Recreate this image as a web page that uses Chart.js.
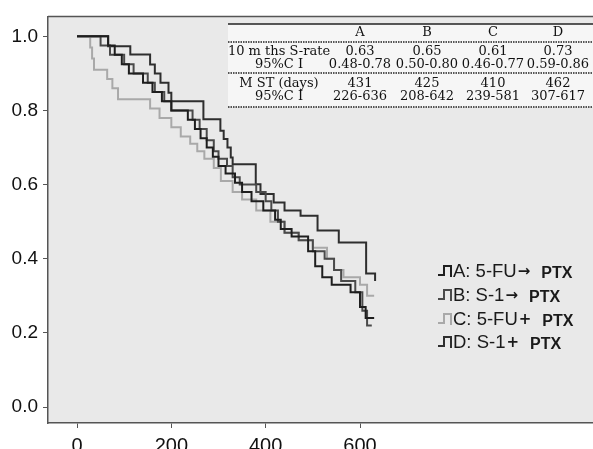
<!DOCTYPE html>
<html><head><meta charset="utf-8">
<script src="https://cdn.jsdelivr.net/npm/chart.js@4.4.1/dist/chart.umd.min.js"></script>
<style>html,body{margin:0;padding:0;background:#fff;}canvas{display:block;}</style>
</head><body>
<canvas id="c" width="593" height="449"></canvas>
<script>
// ---- data ----
const xTicks = [0, 200, 400, 600];
const yTicks = [0, 0.2, 0.4, 0.6, 0.8, 1.0];

const timesA = [0,66,80,95,110,140,160,180,200,235,250,262,275,288,300,315,335,350,370,395,420,432,455,490,505,520,540,580,600,612,630];
const survA  = [1,0.975,0.95,0.925,0.90,0.875,0.85,0.825,0.80,0.775,0.75,0.725,0.70,0.675,0.65,0.63,0.605,0.58,0.555,0.53,0.505,0.48,0.46,0.42,0.38,0.35,0.33,0.31,0.27,0.24,0.24];

const timesB = [0,50,70,100,120,150,165,185,200,245,260,275,290,300,318,330,345,380,400,412,426,440,470,500,525,545,560,590,605,615,625];
const survB  = [1,0.975,0.95,0.925,0.90,0.875,0.85,0.825,0.80,0.775,0.75,0.72,0.69,0.67,0.65,0.62,0.60,0.58,0.555,0.53,0.50,0.47,0.45,0.42,0.40,0.37,0.34,0.31,0.26,0.22,0.22];

const timesC = [0,28,32,36,64,75,87,155,175,200,220,240,255,270,290,305,330,350,380,410,440,470,500,530,545,565,600,615,630];
const survC  = [1,0.97,0.94,0.91,0.885,0.86,0.83,0.805,0.78,0.755,0.73,0.71,0.69,0.67,0.645,0.61,0.58,0.56,0.53,0.50,0.47,0.45,0.43,0.40,0.37,0.35,0.33,0.30,0.30];

const timesD = [0,66,113,155,165,177,194,200,268,304,311,319,326,330,379,389,417,440,474,510,555,613,632];
const survD  = [1,0.973,0.951,0.924,0.90,0.875,0.848,0.825,0.776,0.745,0.723,0.70,0.673,0.655,0.601,0.575,0.552,0.53,0.516,0.476,0.444,0.36,0.34];

const legendMain  = ['A: 5-FU', 'B: S-1', 'C: 5-FU', 'D: S-1'];
const legendSign  = ['\u2192', '\u2192', '+', '+'];
const legendDrug  = ['PTX', 'PTX', 'PTX', 'PTX'];

const tableCols   = ['A', 'B', 'C', 'D'];
const tableLabels = ['10 m ths S-rate', '95%C I', 'M ST (days)', '95%C I'];
const rate10      = ['0.63', '0.65', '0.61', '0.73'];
const rate10CI    = ['0.48-0.78', '0.50-0.80', '0.46-0.77', '0.59-0.86'];
const mstDays     = ['431', '425', '410', '462'];
const mstCI       = ['226-636', '208-642', '239-581', '307-617'];

// ---- styles ----
const colors = ['#1e1e1e', '#4a4a4a', '#a9a9a9', '#2e2e2e'];
const pts = (t, s) => t.map((v, i) => ({x: v, y: s[i]}));
const series = [pts(timesA, survA), pts(timesB, survB), pts(timesC, survC), pts(timesD, survD)];

const bgPlugin = {
  id: 'bg',
  beforeDraw(chart) {
    const {ctx, chartArea: a} = chart;
    ctx.save();
    ctx.fillStyle = '#ffffff';
    ctx.fillRect(0, 0, chart.width, chart.height);
    ctx.fillStyle = '#e9e9e9';
    ctx.fillRect(a.left, a.top, a.right - a.left, a.bottom - a.top);
    ctx.restore();
  },
  afterDraw(chart) {
    const {ctx, chartArea: a} = chart;
    ctx.save();
    ctx.strokeStyle = '#555';
    ctx.lineWidth = 1.5;
    ctx.beginPath(); ctx.moveTo(a.left, a.top); ctx.lineTo(chart.width, a.top); ctx.stroke();

    // ---- inset table ----
    const tx0 = 228, tx1 = chart.width;
    ctx.fillStyle = '#f6f6f6';
    ctx.fillRect(tx0, 24, tx1 - tx0, 83);
    ctx.strokeStyle = '#222';
    ctx.lineWidth = 1.5;
    ctx.beginPath(); ctx.moveTo(tx0, 24); ctx.lineTo(tx1, 24); ctx.stroke();
    ctx.setLineDash([1.5, 1]);
    ctx.lineWidth = 1.3;
    [42, 73, 107].forEach(y => { ctx.beginPath(); ctx.moveTo(tx0, y); ctx.lineTo(tx1, y); ctx.stroke(); });
    ctx.setLineDash([]);
    ctx.fillStyle = '#111';
    ctx.font = '13px "DejaVu Serif"';
    ctx.textAlign = 'center';
    ctx.textBaseline = 'middle';
    const colX = [360, 427, 493, 558];
    const labX = 279;
    const rowY = [33, 52, 65, 84, 97];
    tableCols.forEach((c, i) => ctx.fillText(c, colX[i], rowY[0]));
    tableLabels.forEach((l, r) => ctx.fillText(l, labX, rowY[r + 1]));
    [rate10, rate10CI, mstDays, mstCI].forEach((row, r) => row.forEach((v, i) => ctx.fillText(v, colX[i], rowY[r + 1])));

    // ---- legend ----
    const legY = [272, 296, 320, 343];
    ctx.textAlign = 'left';
    legendMain.forEach((m, i) => {
      const y = legY[i];
      ctx.strokeStyle = colors[i];
      ctx.lineWidth = 2;
      ctx.beginPath();
      ctx.moveTo(438, y + 3); ctx.lineTo(444, y + 3); ctx.lineTo(444, y - 6);
      ctx.lineTo(451, y - 6); ctx.lineTo(451, y + 5);
      ctx.stroke();
      ctx.fillStyle = '#1a1a1a';
      ctx.font = '18.5px "Liberation Sans"';
      ctx.fillText(m, 453, y);
      let x = 453 + ctx.measureText(m).width + 1;
      ctx.font = 'bold 15px "DejaVu Sans"';
      ctx.fillText(legendSign[i], x, y);
      x += ctx.measureText(legendSign[i]).width + 11;
      ctx.font = 'bold 16px "Liberation Sans"';
      ctx.fillText(legendDrug[i], x, y + 2);
    });
    ctx.restore();
  }
};

const pxPerDay = 283 / 600;
const xMin = (48 - 77) / pxPerDay;
const xMax = xMin + 545 / pxPerDay;

new Chart(document.getElementById('c'), {
  type: 'line',
  data: {
    datasets: series.map((d, i) => ({
      label: tableCols[i],
      data: d,
      borderColor: colors[i],
      borderWidth: 2,
      pointRadius: 0,
      fill: false,
      stepped: 'before',
      tension: 0
    }))
  },
  options: {
    responsive: false,
    animation: false,
    devicePixelRatio: 1,
    layout: {padding: {top: 15, right: 0, bottom: 0, left: 0}},
    plugins: {legend: {display: false}, tooltip: {enabled: false}},
    scales: {
      x: {
        type: 'linear',
        min: xMin, max: xMax,
        afterBuildTicks: s => { s.ticks = xTicks.map(v => ({value: v})); },
        afterFit: s => { s.height = 26; },
        grid: {drawOnChartArea: false, drawTicks: true, tickLength: 5, color: '#555'},
        border: {display: true, color: '#555', width: 1.5},
        ticks: {color: '#111', font: {family: '"Liberation Sans"', size: 20}, padding: 6, maxRotation: 0}
      },
      y: {
        type: 'linear',
        min: -16 / 372, max: 1 + 20 / 372,
        afterBuildTicks: s => { s.ticks = yTicks.map(v => ({value: v})); },
        afterFit: s => { s.width = 48; },
        grid: {drawOnChartArea: false, drawTicks: true, tickLength: 5, color: '#555'},
        border: {display: true, color: '#555', width: 1.5},
        ticks: {color: '#111', font: {family: '"Liberation Sans"', size: 19}, padding: 5, callback: v => v.toFixed(1)}
      }
    }
  },
  plugins: [bgPlugin]
});
</script>
</body></html>
